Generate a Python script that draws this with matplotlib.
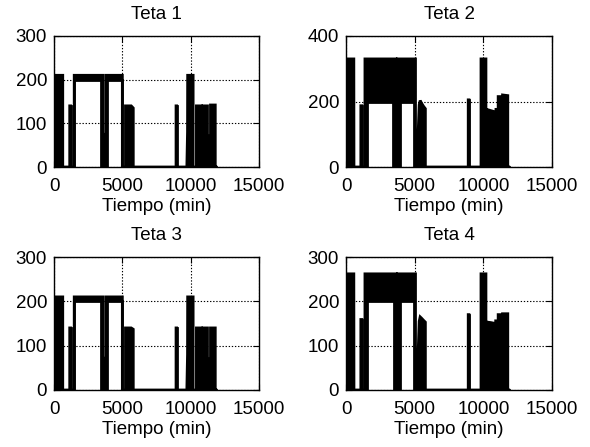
import matplotlib
matplotlib.use("Agg")
import matplotlib.pyplot as plt

plt.rcParams['font.family'] = ['Liberation Sans', 'DejaVu Sans']
plt.rcParams['font.size'] = 14

# Each series is an envelope: time (min), lower bound and upper bound of the
# signal.  Where the controller chatters fast, the band between lower and upper
# is filled solid; where lower == upper the signal is a single line.

# ---- Teta 1 ----
t1 = [0, 640, 640, 1150, 1150, 1210, 1210, 1480, 1480, 3450, 3450, 3560, 3560,
      3780, 3780, 3870, 3870, 5000, 5000, 5230, 5230, 5650, 5800, 5800, 8930,
      8930, 8970, 8970, 9720, 9770, 9780, 10180, 10180, 10420, 10420, 10780,
      10780, 10900, 10900, 11230, 11230, 11450, 11450, 11800, 11800, 11850]
lo1 = [0, 0, 0, 0, 140, 140, 0, 0, 200, 200, 0, 0, 0,
       0, 0, 0, 200, 200, 0, 0, 0, 0, 0, 0, 0,
       140, 140, 0, 0, 0, 0, 0, 0, 0, 0, 0,
       0, 0, 0, 0, 0, 0, 0, 0, 0, 0]
hi1 = [210, 210, 0, 0, 140, 140, 0, 0, 210, 210, 210, 210, 75,
       75, 210, 210, 210, 210, 0, 0, 140, 140, 135, 0, 0,
       140, 140, 0, 0, 80, 210, 210, 0, 0, 140, 140,
       70, 70, 140, 140, 72, 72, 142, 142, 0, 0]

# ---- Teta 2 ----
t2 = [0, 570, 580, 1080, 1080, 1140, 1140, 1380, 1380, 1500, 1500, 3445, 3445,
      3640, 3640, 3740, 3740, 3930, 3930, 4950, 4950, 5060, 5060, 5160, 5330,
      5400, 5500, 5650, 5780, 5780, 8900, 8900, 8950, 8950, 9830, 9830, 10190,
      10190, 10310, 10310, 10560, 10720, 10720, 10920, 10920, 11080, 11080,
      11300, 11300, 11400, 11400, 11780, 11780, 11850]
lo2 = [0, 0, 0, 0, 187, 187, 0, 0, 0, 0, 200, 200, 0,
       0, 0, 0, 0, 0, 200, 200, 0, 0, 0, 0, 0,
       0, 0, 0, 0, 0, 0, 205, 205, 0, 0, 0, 0,
       0, 0, 0, 0, 0, 0, 0, 0, 0, 0,
       0, 0, 0, 0, 0, 0, 0]
hi2 = [330, 330, 0, 0, 187, 187, 0, 0, 330, 330, 330, 330, 330,
       330, 141, 141, 330, 330, 330, 330, 330, 330, 0, 0, 190,
       203, 195, 185, 178, 0, 0, 205, 205, 0, 0, 330, 330,
       0, 0, 175, 172, 170, 75, 75, 176, 176, 215,
       215, 75, 75, 220, 218, 0, 0]

# ---- Teta 3 ----
t3 = [0, 640, 640, 1150, 1150, 1210, 1210, 1480, 1480, 3450, 3450, 3560, 3560,
      3780, 3780, 3870, 3870, 5000, 5000, 5230, 5230, 5650, 5800, 5800, 8930,
      8930, 8970, 8970, 9720, 9770, 9780, 10180, 10180, 10420, 10420, 10780,
      10780, 10900, 10900, 11230, 11230, 11450, 11450, 11800, 11800, 11850]
lo3 = [0, 0, 0, 0, 140, 140, 0, 0, 200, 200, 0, 0, 0,
       0, 0, 0, 200, 200, 0, 0, 0, 0, 0, 0, 0,
       140, 140, 0, 0, 0, 0, 0, 0, 0, 0, 0,
       0, 0, 0, 0, 0, 0, 0, 0, 0, 0]
hi3 = [210, 210, 0, 0, 140, 140, 0, 0, 210, 210, 210, 210, 72,
       72, 210, 210, 210, 210, 0, 0, 140, 140, 137, 0, 0,
       140, 140, 0, 0, 80, 210, 210, 0, 0, 140, 140,
       71, 71, 140, 140, 71, 71, 140, 140, 0, 0]

# ---- Teta 4 ----
t4 = [0, 570, 580, 1080, 1080, 1150, 1150, 1380, 1380, 1500, 1500, 3500, 3500,
      3660, 3660, 3760, 3760, 3930, 3930, 4950, 4950, 5060, 5060, 5160, 5330,
      5400, 5500, 5650, 5780, 5780, 8900, 8900, 8950, 8950, 9830, 9830, 10190,
      10190, 10310, 10310, 10560, 10720, 10720, 10900, 10900, 11080, 11080,
      11300, 11300, 11400, 11400, 11780, 11780, 11850]
lo4 = [0, 0, 0, 0, 159, 159, 0, 0, 0, 0, 200, 200, 0,
       0, 0, 0, 0, 0, 200, 200, 0, 0, 0, 0, 0,
       0, 0, 0, 0, 0, 0, 170, 170, 0, 0, 0, 0,
       0, 0, 0, 0, 0, 0, 0, 0, 0, 0,
       0, 0, 0, 0, 0, 0, 0]
hi4 = [262, 262, 0, 0, 159, 159, 0, 0, 262, 262, 262, 262, 262,
       262, 132, 132, 262, 262, 262, 262, 262, 262, 0, 0, 155,
       165, 162, 157, 153, 0, 0, 170, 170, 0, 0, 262, 262,
       0, 0, 153, 152, 151, 67, 67, 156, 156, 170,
       170, 67, 67, 172, 172, 0, 0]

titles = ["Teta 1", "Teta 2", "Teta 3", "Teta 4"]
series = [(t1, lo1, hi1), (t2, lo2, hi2), (t3, lo3, hi3), (t4, lo4, hi4)]
ylims = [300, 400, 300, 300]
yticks = [[0, 100, 200, 300], [0, 200, 400], [0, 100, 200, 300], [0, 100, 200, 300]]
xticks = [0, 5000, 10000, 15000]
xlabel = "Tiempo (min)"

fig = plt.figure(figsize=(5.9, 4.47), dpi=100)
W, H = 590.0, 447.0
boxes = [(54, 36, 259, 167), (346, 36, 552, 167),
         (54, 257, 259, 390), (346, 257, 552, 390)]

for (x0, y0, x1, y1), title, (t, lo, hi), ymax, yt in zip(boxes, titles, series, ylims, yticks):
    ax = fig.add_axes([x0 / W, 1 - y1 / H, (x1 - x0) / W, (y1 - y0) / H])
    ax.fill_between(t, lo, hi, color='black', linewidth=0)
    ax.plot(t, lo, color='black', lw=2.0, solid_joinstyle='miter')
    ax.plot(t, hi, color='black', lw=2.0, solid_joinstyle='miter')
    ax.set_xlim(0, 15000)
    ax.set_ylim(0, ymax)
    ax.set_xticks(xticks)
    ax.set_yticks(yt)
    ax.grid(True, color='black', linestyle=(0, (1.2, 1.6)), linewidth=0.8)
    ax.tick_params(direction='in', length=4, width=0.8, top=True, right=True,
                   labelsize=13.5)
    ax.tick_params(axis='x', pad=8)
    ax.tick_params(axis='y', pad=5)
    for s in ax.spines.values():
        s.set_linewidth(1.0)
    ax.set_title(title, fontsize=13.5, pad=12)
    ax.set_xlabel(xlabel, fontsize=13.5, labelpad=2)

fig.savefig("out.png", dpi=100)
